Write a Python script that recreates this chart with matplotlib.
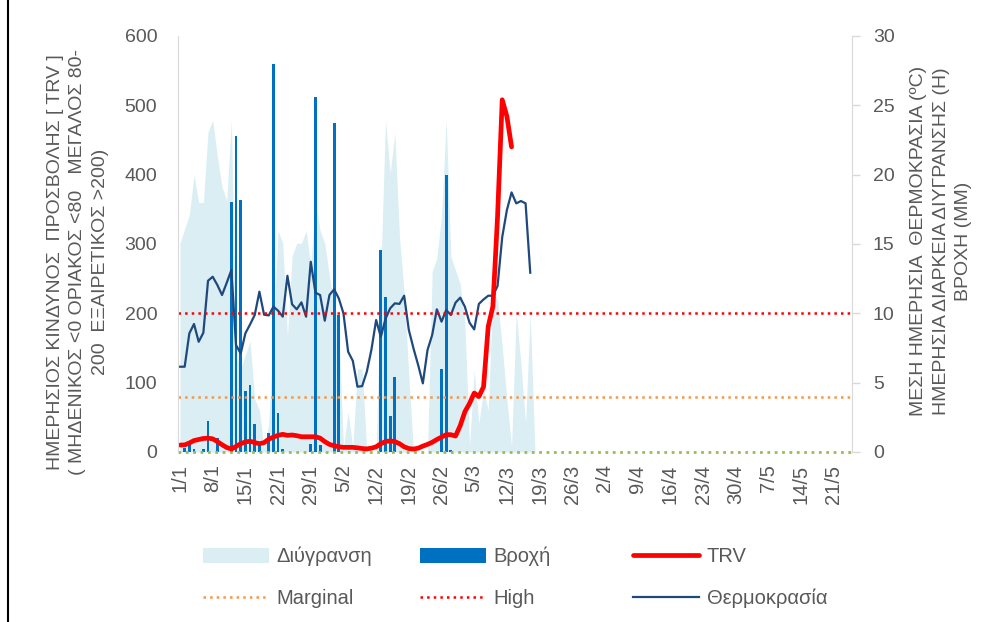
import matplotlib
matplotlib.use("Agg")
import matplotlib.pyplot as plt
from matplotlib.patches import Patch
from matplotlib.lines import Line2D

plt.rcParams['font.family'] = ['Liberation Sans', 'DejaVu Sans']

# x axis: one category per day from 1/1, a label every 7 days
tick_labels = ["1/1", "8/1", "15/1", "22/1", "29/1", "5/2", "12/2", "19/2", "26/2",
               "5/3", "12/3", "19/3", "26/3", "2/4", "9/4", "16/4", "23/4", "30/4",
               "7/5", "14/5", "21/5"]

# wetness duration (h), right axis, days 0..76
wetness = [15.05, 16.1, 17.1, 19.97, 18.0, 18.0, 23.1, 23.94, 21.3, 19.1,
           18.1, 23.94, 7.0, 6.0, 7.0, 8.0, 3.8, 3.0, 0.3, 2.0,
           9.0, 15.96, 15.05, 8.3, 14.1, 15.05, 15.05, 15.96, 13.4, 18.17,
           15.96, 15.05, 12.64, 10.72, 9.0, 0.3, 2.9, 0.3, 6.0, 6.0,
           0.0, 0.0, 0.0, 13.0, 23.94, 20.1, 23.0, 15.5, 11.5, 5.5,
           0.0, 0.0, 0.0, 0.0, 13.0, 14.0, 17.0, 23.94, 14.1, 13.1,
           12.1, 9.3, 0.4, 5.9, 2.07, 4.5, 3.0, 11.4, 11.0, 7.6,
           3.75, 0.4, 10.0, 6.4, 2.07, 10.0, 0.0]

# rain (mm), right axis
rain_days = [1, 2, 3, 5, 6, 8, 11, 12, 13, 14, 15, 16, 17, 19, 20, 21, 22,
             28, 29, 30, 33, 34, 43, 44, 45, 46, 56, 57, 58]
rain_mm = [0.27, 0.5, 0.2, 0.2, 2.2, 1.0, 18.0, 22.8, 18.2, 4.4, 4.8, 2.0, 0.6,
           1.4, 28.0, 2.8, 0.2, 0.6, 25.6, 0.5, 23.75, 9.9, 14.6, 11.2, 2.6,
           5.4, 6.0, 20.0, 0.15]

# mean daily temperature (C), right axis, days 0..75
temperature = [6.15, 6.15, 8.56, 9.23, 7.95, 8.6, 12.35, 12.64, 12.04, 11.32,
               12.2, 13.12, 7.71, 7.1, 8.56, 9.2, 9.88, 11.56, 9.9, 9.85,
               10.48, 10.19, 9.76, 12.71, 10.65, 10.29, 10.79, 9.76, 13.72, 11.49,
               11.32, 9.47, 11.32, 11.73, 11.08, 10.0, 7.23, 6.58, 4.71, 4.75,
               5.79, 7.4, 9.52, 8.3, 9.6, 10.36, 10.72, 10.68, 11.27, 8.8,
               7.47, 6.27, 4.95, 7.35, 8.44, 10.29, 9.4, 10.24, 9.88, 10.77,
               11.13, 10.48, 9.32, 8.84, 10.68, 11.0, 11.27, 11.27, 11.97, 15.5,
               17.45, 18.72, 17.93, 18.1, 17.93, 12.93]

# daily risk TRV, left axis, days 0..71
trv = [10, 10.2, 13, 16.5, 18, 19.5, 20, 19, 15, 10.5,
       6.5, 4.3, 8, 12, 14.5, 15.5, 13.5, 12, 13.5, 18.5,
       21.5, 24, 25.5, 24, 24.5, 23.5, 22, 22, 22, 22,
       20, 15, 11, 9, 7.5, 6.7, 6.7, 6.7, 6, 5,
       4.5, 5.5, 7.5, 12, 15, 16, 15, 12, 7.5, 5,
       4.3, 5.5, 8.5, 11, 14, 18, 21.5, 25, 25, 23,
       38, 58, 70, 85, 80, 94, 181, 210, 340, 508,
       484, 440]

nil_level = 0
marginal_level = 80
high_level = 200

GREY = '#595959'
AXIS = '#D9D9D9'

fig = plt.figure(figsize=(10.01, 6.22), dpi=100)
ax = fig.add_axes([178 / 1001, 1 - 452 / 622, 674 / 1001, 416 / 622])
ax2 = ax.twinx()

# right axis series
ax2.fill_between(range(len(wetness)), wetness, 0, color='#DAEEF3', lw=0)
ax2.bar(rain_days, rain_mm, width=0.6, color='#0070C0')
ax2.plot(range(len(temperature)), temperature, color='#1F497D', lw=1.6)

# left axis series
ax.axhline(nil_level, color='#9BBB59', ls=':', lw=2, clip_on=False)
ax.axhline(marginal_level, color='#F79646', ls=':', lw=1.8)
ax.axhline(high_level, color='#FF0000', ls=':', lw=1.8)
ax.plot(range(len(trv)), trv, color='#FF0000', lw=3.4,
        solid_capstyle='round', solid_joinstyle='round')

ax.set_zorder(ax2.get_zorder() + 1)
ax.patch.set_visible(False)

ax.set_xlim(-0.43, 143.9)
ax.set_ylim(0, 600)
ax2.set_ylim(0, 30)

ax.set_xticks(range(0, 7 * len(tick_labels), 7))
ax.set_xticklabels(tick_labels, rotation=90)
ax.set_yticks(range(0, 601, 100))
ax2.set_yticks(range(0, 31, 5))

ax.tick_params(axis='x', length=0, pad=9, labelsize=14.5, labelcolor=GREY)
ax.tick_params(axis='y', length=0, pad=15, labelsize=14, labelcolor=GREY)
ax2.tick_params(axis='y', length=6, width=1, color=AXIS, pad=9,
                labelsize=14, labelcolor=GREY)

for s in ['top', 'right', 'bottom']:
    ax.spines[s].set_visible(False)
ax.spines['left'].set_color(AXIS)
for s in ['top', 'left', 'bottom']:
    ax2.spines[s].set_visible(False)
ax2.spines['right'].set_color(AXIS)

fig.text(78 / 1001, 1 - 262 / 622,
         "ΗΜΕΡΗΣΙΟΣ ΚΙΝΔΥΝΟΣ  ΠΡΟΣΒΟΛΗΣ [ TRV ]\n"
         "( ΜΗΔΕΝΙΚΟΣ <0 ΟΡΙΑΚΟΣ <80   ΜΕΓΑΛΟΣ 80-\n"
         "200  ΕΞΑΙΡΕΤΙΚΟΣ >200)",
         rotation=90, ha='center', va='center', multialignment='center',
         fontsize=14, color=GREY, linespacing=1.45)
fig.text(941 / 1001, 1 - 241 / 622,
         "ΜΕΣΗ ΗΜΕΡΗΣΙΑ  ΘΕΡΜΟΚΡΑΣΙΑ (ºC)\n"
         "ΗΜΕΡΗΣΙΑ ΔΙΑΡΚΕΙΑ ΔΙΥΓΡΑΝΣΗΣ (Η)\n"
         "ΒΡΟΧΗ (ΜΜ)",
         rotation=90, ha='center', va='center', multialignment='center',
         fontsize=14, color=GREY, linespacing=1.45)

h_wet = Patch(facecolor='#DAEEF3', edgecolor='none')
h_rain = Patch(facecolor='#0070C0', edgecolor='none')
h_trv = Line2D([], [], color='#FF0000', lw=3.4, solid_capstyle='round')
h_marg = Line2D([], [], color='#F79646', ls=':', lw=1.8)
h_high = Line2D([], [], color='#FF0000', ls=':', lw=1.8)
h_temp = Line2D([], [], color='#1F497D', lw=1.6)

columns = [((h_wet, "Διύγρανση"), (h_marg, "Marginal"), 203),
           ((h_rain, "Βροχή"), (h_high, "High"), 420),
           ((h_trv, "TRV"), (h_temp, "Θερμοκρασία"), 633)]
for first, second, xpix in columns:
    leg = fig.legend([first[0], second[0]], [first[1], second[1]],
                     loc='upper left', bbox_to_anchor=(xpix / 1001, 1 - 547 / 622),
                     frameon=False, borderpad=0, borderaxespad=0,
                     handlelength=3.3, handletextpad=0.35, labelspacing=1.1,
                     fontsize=14.5)
    for t in leg.get_texts():
        t.set_color(GREY)

# chart border (left edge only is visible in the picture)
fig.add_artist(Line2D([8 / 1001, 8 / 1001], [0, 1], color='black', lw=1.5,
                      transform=fig.transFigure))

fig.savefig("out.png", dpi=100)
